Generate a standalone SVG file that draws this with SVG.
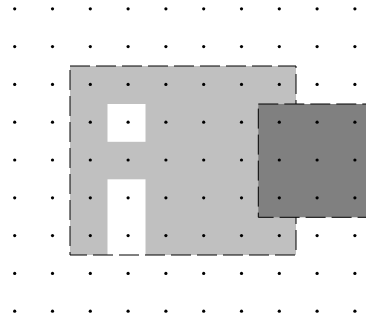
<svg xmlns="http://www.w3.org/2000/svg" xmlns:xlink="http://www.w3.org/1999/xlink" width="366" height="322" viewBox="0 0 366 322">
<style>
.edge{stroke:#000;stroke-width:1;stroke-dasharray:20 6}
.dot{fill:#000}
</style>
<defs>
<circle id="d" r="1.6" class="dot"/>
<g id="row">
<use xlink:href="#d" x="14.7"/><use xlink:href="#d" x="52.5"/><use xlink:href="#d" x="90.3"/><use xlink:href="#d" x="128.1"/><use xlink:href="#d" x="165.9"/><use xlink:href="#d" x="203.7"/><use xlink:href="#d" x="241.5"/><use xlink:href="#d" x="279.3"/><use xlink:href="#d" x="317.1"/><use xlink:href="#d" x="354.9"/>
</g>
</defs>
<rect width="366" height="322" fill="#fff"/>
<g id="region-light">
<rect x="70" y="66" width="226" height="189" fill="#c0c0c0"/>
</g>
<g id="hole-top">
<rect x="107.5" y="104" width="38" height="37.8" fill="#fff"/>
</g>
<g id="hole-bottom">
<rect x="107.5" y="179.3" width="38" height="75.7" fill="#fff"/>
</g>
<g id="region-light-border">
<rect x="70" y="66" width="226" height="189" fill="none" class="edge"/>
</g>
<g id="region-dark">
<rect x="258.3" y="104" width="120" height="113.3" fill="#808080" class="edge"/>
</g>
<g id="connectors"></g>
<g id="grid">
<use xlink:href="#row" y="8.8"/><use xlink:href="#row" y="46.6"/><use xlink:href="#row" y="84.4"/><use xlink:href="#row" y="122.2"/><use xlink:href="#row" y="160"/><use xlink:href="#row" y="197.8"/><use xlink:href="#row" y="235.6"/><use xlink:href="#row" y="273.4"/><use xlink:href="#row" y="311.2"/>
</g>
</svg>
